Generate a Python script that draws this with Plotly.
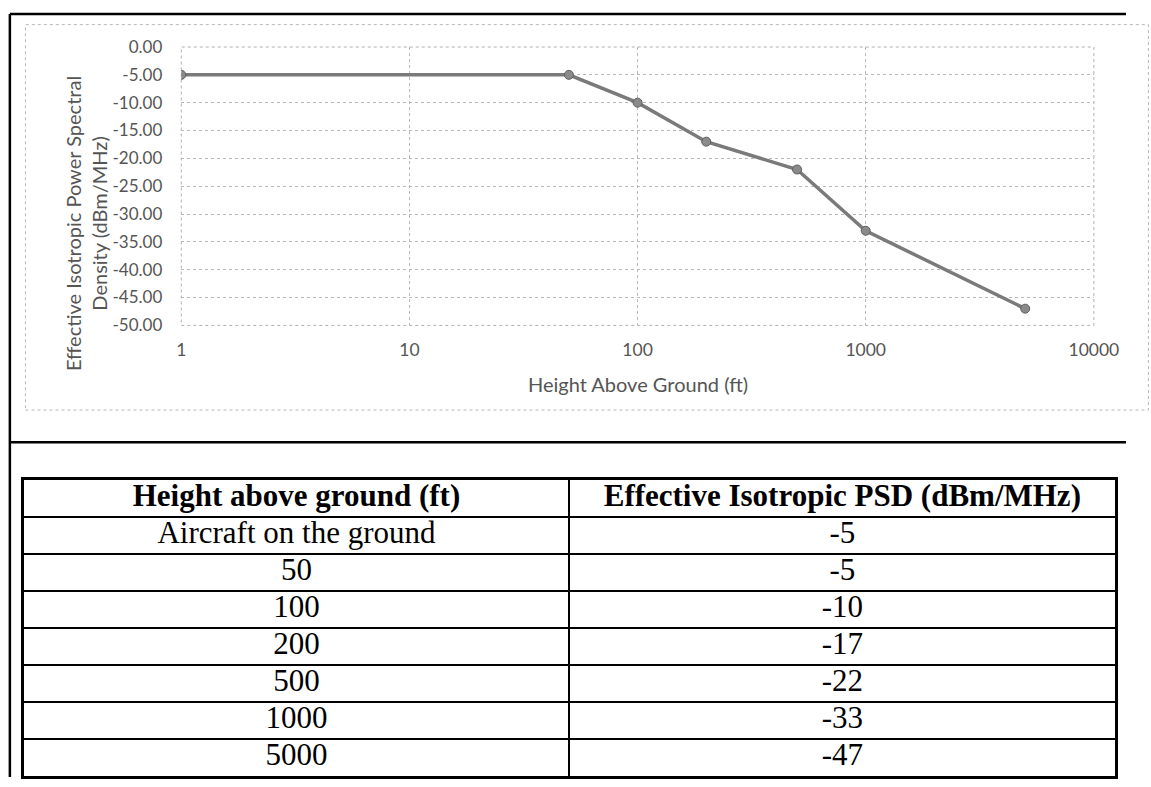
import plotly.graph_objects as go

# ---- data ----
heights_ft = [1, 50, 100, 200, 500, 1000, 5000]
psd_dbm_mhz = [-5, -5, -10, -17, -22, -33, -47]
y_ticks = [0, -5, -10, -15, -20, -25, -30, -35, -40, -45, -50]
x_ticks = [1, 10, 100, 1000, 10000]

table_header = ["Height above ground (ft)", "Effective Isotropic PSD (dBm/MHz)"]
table_heights = ["Aircraft on the ground", "50", "100", "200", "500", "1000", "5000"]
table_psd = ["-5", "-5", "-10", "-17", "-22", "-33", "-47"]

W, H = 1151, 787
def px(x):
    return x / W
def py(y):
    return 1 - y / H

AX_FONT = "Lato, 'Open Sans', sans-serif"
AX_COL = "#555555"
SERIF = "'Liberation Serif', 'Times New Roman', serif"

fig = go.Figure()

# chart line
fig.add_trace(go.Scatter(
    x=heights_ft, y=psd_dbm_mhz, mode="lines+markers",
    line=dict(color="#7a7a7a", width=3.5),
    marker=dict(symbol="circle", size=9, color="#8a8a8a", line=dict(color="#5e5e5e", width=1)),
    xaxis="x", yaxis="y", showlegend=False, hoverinfo="x+y",
))

# table via second axes
n_rows = len(table_heights) + 1
col_x = [0.5, 1.5]
hdr_y = [0.5, 0.5]
fig.add_trace(go.Scatter(
    x=col_x, y=hdr_y, mode="text",
    text=[f"<b>{t}</b>" for t in table_header],
    textfont=dict(family=SERIF, size=31, color="black"),
    textposition="middle center",
    xaxis="x2", yaxis="y2", showlegend=False, hoverinfo="skip",
))
rows_y = [i + 1.5 for i in range(len(table_heights))]
fig.add_trace(go.Scatter(
    x=[0.5] * len(table_heights) + [1.5] * len(table_psd),
    y=rows_y + rows_y,
    mode="text",
    text=table_heights + table_psd,
    textfont=dict(family=SERIF, size=31, color="black"),
    textposition="middle center",
    xaxis="x2", yaxis="y2", showlegend=False, hoverinfo="skip",
))

fig.update_layout(
    autosize=True,
    margin=dict(l=0, r=0, t=0, b=0, pad=0),
    paper_bgcolor="white", plot_bgcolor="white",
    xaxis=dict(
        type="log", range=[0, 4], domain=[px(181), px(1118)],
        tickvals=x_ticks, ticktext=[str(v) for v in x_ticks],
        showgrid=True, gridcolor="#b8b8b8", griddash="dot", gridwidth=1,
        zeroline=False, showline=False, ticks="",
        ticklabelstandoff=12,
        tickfont=dict(family=AX_FONT, size=17.5, color=AX_COL),
        anchor="y",
    ),
    yaxis=dict(
        range=[-50, 0], domain=[py(323), py(37)],
        tickvals=y_ticks, ticktext=[f"{v:.2f}" if v != 0 else "0.00" for v in y_ticks],
        showgrid=True, gridcolor="#b8b8b8", griddash="dot", gridwidth=1,
        zeroline=False, showline=False, ticks="",
        ticklabelstandoff=18,
        tickfont=dict(family=AX_FONT, size=17, color=AX_COL),
        anchor="x",
    ),
    xaxis2=dict(
        range=[0, 2], domain=[px(19), px(1140)],
        tickvals=[1], showticklabels=False, ticks="",
        showgrid=True, gridcolor="black", gridwidth=2,
        showline=True, mirror=True, linecolor="black", linewidth=2.5,
        zeroline=False, anchor="y2",
    ),
    yaxis2=dict(
        range=[n_rows, 0], domain=[py(786), py(482)],
        tickvals=list(range(1, n_rows)), showticklabels=False, ticks="",
        showgrid=True, gridcolor="black", gridwidth=2,
        showline=True, mirror=True, linecolor="black", linewidth=2.5,
        zeroline=False, anchor="x2",
    ),
    annotations=[
        dict(text="Height Above Ground (ft)", x=px(650), y=py(383), xref="paper", yref="paper",
             showarrow=False, font=dict(family=AX_FONT, size=20, color=AX_COL),
             xanchor="center", yanchor="middle"),
        dict(text="Effective Isotropic Power Spectral<br>Density (dBm/MHz)", x=px(83), y=py(218),
             xref="paper", yref="paper", showarrow=False, textangle=-90,
             font=dict(family=AX_FONT, size=20, color=AX_COL),
             xanchor="center", yanchor="middle"),
    ],
    shapes=[
        # plot area border (dotted)
        dict(type="rect", xref="x domain", yref="y domain", x0=0, x1=1, y0=0, y1=1,
             line=dict(color="#b0b0b0", width=1, dash="dot"), layer="below"),
        # chart area border (dotted)
        dict(type="rect", xref="paper", yref="paper", x0=px(21), x1=1.02, y0=py(410), y1=py(14),
             line=dict(color="#b8b8b8", width=1, dash="dot"), layer="below"),
        # page frame lines
        dict(type="line", xref="paper", yref="paper", x0=px(5), x1=px(5), y0=0, y1=py(3),
             line=dict(color="black", width=2.5)),
        dict(type="line", xref="paper", yref="paper", x0=px(5), x1=1, y0=py(3), y1=py(3),
             line=dict(color="black", width=2.5)),
        dict(type="line", xref="paper", yref="paper", x0=px(5), x1=1, y0=py(443), y1=py(443),
             line=dict(color="black", width=2.5)),
    ],
)

post = (
    "var s=document.createElement('style');"
    "s.textContent='html,body{margin:0;padding:0;width:100%;height:100%;overflow:hidden;}"
    "body>div{width:100%;height:100%;}';"
    "document.head.appendChild(s);"
    "var gd=document.getElementById('{plot_id}');"
    "gd.style.width='100vw';gd.style.height='100vh';"
    "Plotly.Plots.resize(gd);"
)

fig.write_html(
    "out.html",
    default_width="100%", default_height="100%",
    config={"responsive": True, "displayModeBar": False},
    post_script=post,
)
